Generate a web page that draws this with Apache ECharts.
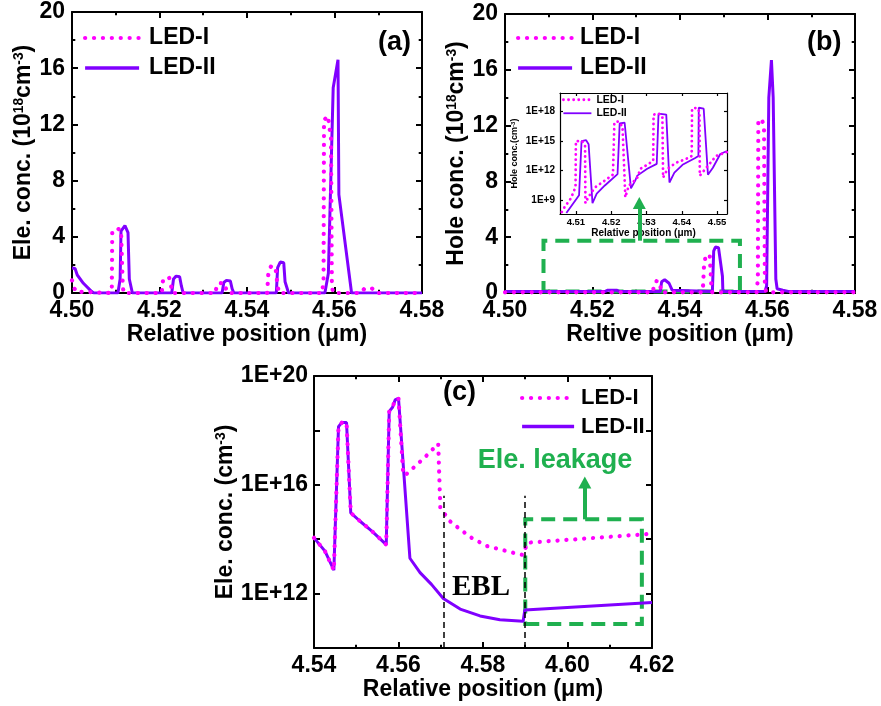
<!DOCTYPE html>
<html><head><meta charset="utf-8">
<script src="https://cdn.jsdelivr.net/npm/echarts@6/dist/echarts.min.js"></script>
<style>html,body{margin:0;padding:0;background:#fff}#c{width:881px;height:706px}</style>
</head><body><div id="c"></div><script>
// ---------------- DATA ----------------
// Panel (a): electron concentration (1e18 cm^-3) vs relative position (um)
const aLED1 = [[4.5000,0.9],[4.5008,0.1],[4.5012,0],[4.5088,0],[4.5091,0.3],[4.5092,4.3],[4.5100,4.6],[4.5112,4.5],[4.5116,0.5],[4.5118,0],
  [4.5205,0],[4.5208,0.9],[4.5213,1.1],[4.5222,1.1],[4.5228,0.3],[4.5230,0],[4.5328,0],[4.5331,0.6],[4.5338,0.7],[4.5348,0.7],[4.5353,0.2],[4.5356,0],
  [4.5446,0],[4.5449,1.5],[4.5455,1.9],[4.5465,1.85],[4.5470,0.5],[4.5473,0],[4.5572,0],[4.5575,1.0],[4.5576,12.3],[4.5585,12.6],[4.5592,11.0],[4.5594,0.5],[4.5597,0],
  [4.5660,0],[4.5668,0.3],[4.5685,0.35],[4.5695,0],[4.5800,0]];
const aLED2 = [[4.5000,1.78],[4.5007,1.75],[4.5012,1.28],[4.5026,0.69],[4.5045,0.1],[4.5050,0],[4.5105,0],[4.5110,1.0],[4.5112,4.4],[4.5121,4.8],[4.5128,4.3],[4.5131,1.0],[4.5138,0],
  [4.5228,0],[4.5232,1.0],[4.5238,1.2],[4.5246,1.15],[4.5250,0.5],[4.5254,0],[4.5343,0],[4.5347,0.75],[4.5353,0.9],[4.5362,0.85],[4.5366,0.3],[4.5370,0],
  [4.5467,0],[4.5470,1.8],[4.5476,2.2],[4.5484,2.15],[4.5487,0.8],[4.5495,0],[4.5578,0],[4.5586,1.4],[4.5597,14.6],[4.5608,16.6],[4.5610,7.0],[4.5639,0],[4.5800,0]];
// Panel (b): hole concentration (1e18 cm^-3)
const bLED1 = [[4.5000,0.05],[4.5338,0.05],[4.5341,0.7],[4.5346,0.85],[4.5354,0.8],[4.5357,0.05],[4.5452,0.05],[4.5455,2.0],[4.5459,2.7],[4.5468,2.7],[4.5472,0.3],[4.5474,0.05],
  [4.5575,0.05],[4.5578,1.0],[4.5579,12.2],[4.5586,12.5],[4.5592,12.0],[4.5594,0.5],[4.5597,0.05],[4.5800,0.05]];
const bLED2 = [[4.5000,0.1],[4.5228,0.1],[4.5235,0.2],[4.5255,0.2],[4.5262,0.1],[4.5355,0.1],[4.5358,0.8],[4.5365,0.95],[4.5375,0.7],[4.5382,0.2],[4.5385,0.1],
  [4.5474,0.1],[4.5477,3.0],[4.5481,3.3],[4.5488,3.25],[4.5497,1.2],[4.5498,0.1],[4.5594,0.1],[4.5598,0.5],[4.5603,14],[4.5609,16.7],[4.5613,14],[4.5619,1.0],[4.5622,0.3],[4.5635,0.2],[4.5650,0.1],[4.5800,0.1]];
// Inset of (b): log10 of hole concentration (cm^-3)
const insLED1 = [[4.5060,7.8],[4.5068,8.3],[4.5086,9.2],[4.5095,10.0],[4.5099,10.3],[4.5100,15.0],[4.5118,15.0],[4.5126,14.5],[4.5127,8.7],[4.5135,9.3],[4.5154,10.3],[4.5182,11.0],[4.5205,11.6],[4.5208,11.7],
  [4.5209,16.9],[4.5220,17.0],[4.5232,16.5],[4.5240,9.3],[4.5250,10.5],[4.5273,11.2],[4.5283,12.2],[4.5302,12.6],[4.5319,13.0],[4.5320,17.7],[4.5335,17.8],[4.5345,17.5],[4.5347,11.3],
  [4.5360,12.2],[4.5383,12.8],[4.5419,13.3],[4.5428,13.5],[4.5429,18.3],[4.5443,18.4],[4.5450,18.0],[4.5451,11.5],[4.5474,12.5],[4.5497,13.5],[4.5528,13.9]];
const insLED2 = [[4.5073,7.7],[4.5109,9.5],[4.5116,15.0],[4.5129,15.1],[4.5136,14.7],[4.5147,8.7],[4.5159,9.66],[4.5182,10.5],[4.5218,11.66],[4.5223,11.8],[4.5224,16.8],[4.5227,17.0],[4.5238,16.9],
  [4.5256,10.2],[4.5268,11.0],[4.5274,11.5],[4.5302,12.2],[4.5329,12.7],[4.5333,12.8],[4.5334,17.8],[4.5338,17.85],[4.5356,17.7],[4.5365,10.8],[4.5379,11.8],[4.5402,12.6],[4.5438,13.3],
  [4.5447,13.5],[4.5448,18.4],[4.5451,18.45],[4.5462,18.3],[4.5474,11.6],[4.5488,12.3],[4.5509,13.7],[4.5528,14.0]];
// Panel (c): log10 of electron concentration (cm^-3)
const cLED2 = [[4.5400,14.05],[4.5426,13.56],[4.5447,12.86],[4.5458,18.14],[4.5466,18.29],[4.5477,18.29],[4.5487,14.97],[4.5509,14.66],[4.5537,14.3],[4.5571,13.8],
  [4.5578,18.7],[4.5586,18.85],[4.5592,19.12],[4.5600,19.18],[4.5627,13.3],[4.5651,12.77],[4.5678,12.34],[4.5706,11.82],[4.5746,11.43],[4.5793,11.18],[4.5840,11.04],[4.5895,10.98],[4.5899,11.4],[4.6200,11.67]];
const cLED1 = [[4.5400,14.05],[4.5426,13.56],[4.5447,12.86],[4.5458,18.14],[4.5466,18.29],[4.5477,18.29],[4.5487,14.97],[4.5509,14.66],[4.5537,14.3],[4.5571,13.8],
  [4.5578,18.7],[4.5586,18.85],[4.5592,19.12],[4.5600,19.18],[4.5611,16.44],[4.5615,16.34],[4.5635,16.62],[4.5663,17.02],[4.5694,17.51],[4.5698,17.5],[4.5699,15.15],
  [4.5722,14.66],[4.5746,14.36],[4.5773,14.05],[4.5809,13.75],[4.5832,13.66],[4.5872,13.5],[4.5895,13.42],[4.5905,13.87],[4.6200,14.2]];
const cEBL = [4.5706, 4.5900];          // EBL boundary positions
const seriesNames = ['LED-I','LED-II'];
const insXTicks = [4.51,4.52,4.53,4.54,4.55];
const insYTicks = [9,12,15,18];

// ---------------- STYLE ----------------
const FONT = 'Liberation Sans';
const C1 = '#ff00ff', C2 = '#8000ff', GREEN = '#1fb04f';
const lab = (fs, margin, fmt, extra) => Object.assign({show:true, color:'#000', fontFamily:FONT, fontWeight:'bold', fontSize:fs, margin:margin, formatter:fmt}, extra||{});
const base = (lw, tl, minor) => ({
  axisLine:{show:true, onZero:false, lineStyle:{color:'#000', width:lw}},
  axisTick:{show:true, inside:true, length:tl, lineStyle:{color:'#000', width:lw}},
  minorTick:{show:minor, splitNumber:2, length:tl*0.55, lineStyle:{color:'#000', width:lw}},
  splitLine:{show:false}
});
const nameStyle = (fs, sup) => ({color:'#000', fontFamily:FONT, fontWeight:'bold', fontSize:fs,
  rich:{sup:{fontFamily:FONT, fontWeight:'bold', fontSize:sup, verticalAlign:'top', color:'#000'}}});
const f2 = v => v.toFixed(2);
const fi = v => String(Math.round(v));
const fe = v => (Math.round(v) % 4 === 0 ? '1E+' + Math.round(v) : '');
const fe3 = v => '1E+' + Math.round(v);

function xPair(grid, min, max, interval, fmt, name, fs, gap, lw, tl, minor, extraLab, extraTick) {
  const bot = Object.assign({type:'value', gridIndex:grid, position:'bottom', min, max, interval,
    name, nameLocation:'middle', nameGap:gap, nameTextStyle:nameStyle(fs, fs*0.6),
    axisLabel:lab(fs, 6, fmt, extraLab)}, base(lw, tl, minor));
  const top = Object.assign({type:'value', gridIndex:grid, position:'top', min, max, interval, axisLabel:{show:false}}, base(lw, tl, minor));
  if (extraTick) { bot.axisTick.customValues = extraTick; top.axisTick.customValues = extraTick; }
  return [bot, top];
}
function yPair(grid, min, max, interval, fmt, name, fs, gap, lw, tl, minor, margin, extraLab, extraTick, supFs) {
  const left = Object.assign({type:'value', gridIndex:grid, position:'left', min, max, interval,
    name, nameLocation:'middle', nameGap:gap, nameRotate:90, nameTextStyle:nameStyle(fs, supFs||fs*0.6),
    axisLabel:lab(fs, margin, fmt, extraLab)}, base(lw, tl, minor));
  const right = Object.assign({type:'value', gridIndex:grid, position:'right', min, max, interval, axisLabel:{show:false}}, base(lw, tl, minor));
  if (extraTick) { left.axisTick.customValues = extraTick; right.axisTick.customValues = extraTick; }
  return [left, right];
}

const xAxis = [].concat(
  xPair(0, 4.50, 4.58, 0.02, f2, 'Relative position (μm)', 23, 28, 2, 6, true),
  xPair(1, 4.50, 4.58, 0.02, f2, 'Reltive position (μm)', 23, 28, 2, 6, true),
  xPair(2, 4.54, 4.62, 0.02, f2, 'Relative position (μm)', 23, 29, 2, 6, true),
  xPair(3, 4.5055, 4.5528, null, f2, 'Relative position (μm)', 10, 11, 1.2, 3, false, {customValues:insXTicks, margin:3, fontSize:9.5}, insXTicks)
);
const yAxis = [].concat(
  yPair(0, 0, 20, 4, fi, 'Ele. conc. (10{sup|18}cm{sup|-3})', 23, 29, 2, 6, true, 7),
  yPair(1, 0, 20, 4, fi, 'Hole conc. (10{sup|18}cm{sup|-3})', 23, 27, 2, 6, true, 7),
  yPair(2, 10, 20, 2, fe, 'Ele. conc. (cm{sup|-3})', 23, 72, 2, 6, false, 6),
  yPair(3, 7.6, 19.9, null, fe3, 'Hole conc.(cm{sup|-3})', 9, 41, 1.2, 3, false, 5, {customValues:insYTicks, fontSize:10}, insYTicks, 6)
);

const DOT_W = 4.2, DOT_GAP = 8.8;
const dot = (w, gap) => ({color:C1, width:w, type:[0.1, gap], cap:'round'});
const line = (name, xi, data, ls, extra) => Object.assign({
  type:'line', name, xAxisIndex:xi, yAxisIndex:xi, data, showSymbol:false, symbol:'none',
  lineStyle:ls, itemStyle:{color:ls.color}, animation:false
}, extra||{});

const series = [
  line('LED-II', 0, aLED2, {color:C2, width:3}),
  line('LED-I', 0, aLED1, dot(DOT_W, DOT_GAP)),
  line('LED-II', 2, bLED2, {color:C2, width:3}),
  line('LED-I', 2, bLED1, dot(DOT_W, DOT_GAP), {
    markArea:{silent:true, label:{show:false}, itemStyle:{color:'rgba(0,0,0,0)', borderColor:GREEN, borderWidth:4, borderType:[14,8]},
      data:[[{coord:[4.5088, 0.1]},{coord:[4.5537, 3.75]}]]},
    markLine:{silent:true, symbol:['none','triangle'], symbolSize:[13,12], label:{show:false}, lineStyle:{color:GREEN, width:4, type:'solid'},
      data:[[{coord:[4.5307, 3.75]},{coord:[4.5307, 6.45]}]]}
  }),
  line('LED-II', 4, cLED2, {color:C2, width:3}, {
    markLine:{silent:true, symbol:['none','none'], label:{show:false}, lineStyle:{color:'#000', width:1.5, type:[6,4]},
      data: cEBL.map(x => [{coord:[x, 10]},{coord:[x, 15.6]}])}
  }),
  line('LED-I', 4, cLED1, dot(DOT_W, DOT_GAP), {
    markArea:{silent:true, label:{show:false}, itemStyle:{color:'rgba(0,0,0,0)', borderColor:GREEN, borderWidth:4, borderType:[14,8]},
      data:[[{coord:[4.5900, 10.88]},{coord:[4.6176, 14.73]}]]},
    markLine:{silent:true, symbol:['none','triangle'], symbolSize:[13,12], label:{show:false}, lineStyle:{color:GREEN, width:4, type:'solid'},
      data:[[{coord:[4.6041, 14.73]},{coord:[4.6041, 16.08]}]]}
  }),
  line('LED-II', 6, insLED2, {color:C2, width:1.8}),
  line('LED-I', 6, insLED1, dot(2.8, 5))
];

const legText = (fs, lh, pad) => ({color:'#000', fontFamily:FONT, fontWeight:'bold', fontSize:fs, lineHeight:lh, padding:[0,0,0,pad]});
const hideSym = {opacity:0, borderWidth:0};
const bigLegData = [{name:'LED-I', lineStyle:{width:DOT_W, type:[0.1,DOT_GAP], cap:'round', color:C1}}, {name:'LED-II', lineStyle:{width:3.5, type:'solid', color:C2}}];
const legend = [
  {left:83, top:25, padding:0, orient:'vertical', itemWidth:54, itemHeight:12, itemGap:4, selectedMode:false, itemStyle:hideSym, data:bigLegData, textStyle:legText(23, 26, 5)},
  {left:516, top:25, padding:0, orient:'vertical', itemWidth:54, itemHeight:12, itemGap:4, selectedMode:false, itemStyle:hideSym, data:bigLegData, textStyle:legText(23, 26, 3)},
  {left:520, top:386, padding:0, orient:'vertical', itemWidth:52, itemHeight:12, itemGap:4.5, selectedMode:false, itemStyle:hideSym, data:bigLegData, textStyle:legText(22, 24, 2)},
  {left:562, top:94, padding:0, orient:'vertical', itemWidth:28, itemHeight:8, itemGap:2, selectedMode:false, itemStyle:hideSym, textStyle:legText(10.5, 11.5, 0),
    data:[{name:'LED-I', lineStyle:{width:2.8, type:[0.1,5], cap:'round', color:C1}}, {name:'LED-II', lineStyle:{width:1.8, type:'solid', color:C2}}]}
];

const txt = (x, y, text, fs, color, family, align) => ({type:'text', x, y, silent:true, z:100,
  style:{text, fill:color||'#000', fontSize:fs, fontWeight:'bold', fontFamily:family||FONT, textAlign:align||'left', textVerticalAlign:'middle'}});

const option = {
  animation:false,
  backgroundColor:'#fff',
  grid:[
    {left:72, top:12, width:350, height:281},
    {left:505, top:14, width:350, height:279},
    {left:314, top:376, width:338, height:272},
    {left:560, top:93, width:167, height:121, show:true, backgroundColor:'#fff', borderWidth:0}
  ],
  xAxis, yAxis, legend, series,
  graphic:[
    txt(378, 43, '(a)', 27),
    txt(807, 43, '(b)', 27),
    txt(443, 393, '(c)', 27),
    txt(452, 588, 'EBL', 29, '#000', 'Liberation Serif'),
    txt(555, 461, 'Ele. leakage', 27, GREEN, FONT, 'center')
  ]
};
const chart = echarts.init(document.getElementById('c'), null, {renderer:'canvas'});
chart.setOption(option);
</script></body></html>
